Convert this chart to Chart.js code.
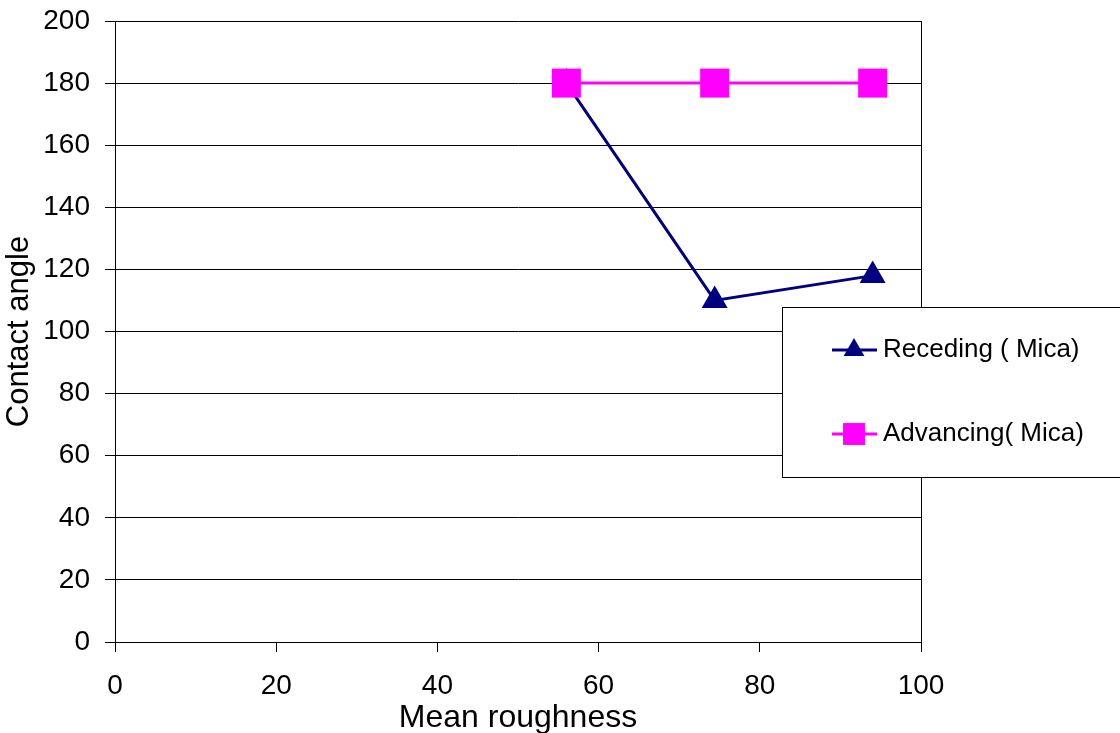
<!DOCTYPE html>
<html lang="en">
  <head>
    <meta charset="UTF-8" />
    <title>Contact angle vs mean roughness</title>
    <script src="https://cdn.jsdelivr.net/npm/chart.js"></script>
    <style>
      html, body { margin: 0; padding: 0; background: #fff; }
      #wrap { width: 1120px; height: 733px; }
    </style>
  </head>
  <body>
    <div id="wrap"><canvas id="myChart" width="1120" height="733"></canvas></div>
    <script>
      const roughness = [56, 74.4, 94];
      const receding = [180, 110, 118];
      const advancing = [180, 180, 180];
      const seriesNames = ["Receding ( Mica)", "Advancing( Mica)"];

      const FONT = "'Liberation Sans', Arial, sans-serif";

      function toPoints(xs, ys) {
        return xs.map((x, i) => ({ x: x, y: ys[i] }));
      }

      // marker for the legend box, same look as chart points
      function drawMarker(ctx, style, x, y, r, color) {
        ctx.fillStyle = color;
        ctx.beginPath();
        if (style === "triangle") {
          ctx.moveTo(x, y - r);
          ctx.lineTo(x + r * 0.866, y + r * 0.5);
          ctx.lineTo(x - r * 0.866, y + r * 0.5);
          ctx.closePath();
        } else {
          const s = r * Math.SQRT1_2;
          ctx.rect(x - s, y - s, 2 * s, 2 * s);
        }
        ctx.fill();
      }

      const boxLegend = {
        id: "boxLegend",
        afterDraw(chart) {
          const ctx = chart.ctx;
          const area = chart.chartArea;
          ctx.save();
          // right edge of plot area
          ctx.strokeStyle = "#000";
          ctx.lineWidth = 1;
          ctx.beginPath();
          ctx.moveTo(Math.round(area.right) + 0.5, area.top);
          ctx.lineTo(Math.round(area.right) + 0.5, area.bottom);
          ctx.stroke();

          // legend box
          ctx.fillStyle = "#fff";
          ctx.fillRect(782.5, 307.5, 400, 170);
          ctx.strokeRect(782.5, 307.5, 400, 170);

          const rows = [350, 434];
          const markerR = [12, 15.5];
          chart.data.datasets.forEach((ds, i) => {
            const y = rows[i];
            ctx.strokeStyle = ds.borderColor;
            ctx.lineWidth = 3;
            ctx.beginPath();
            ctx.moveTo(832, y);
            ctx.lineTo(877, y);
            ctx.stroke();
            drawMarker(ctx, ds.pointStyle, 854, y, markerR[i], ds.pointBackgroundColor);
            ctx.fillStyle = "#000";
            ctx.font = "26px " + FONT;
            ctx.textAlign = "left";
            ctx.textBaseline = "middle";
            ctx.fillText(ds.label, 883, y);
          });
          ctx.restore();
        },
      };

      const ctx = document.getElementById("myChart").getContext("2d");
      const myChart = new Chart(ctx, {
        type: "line",
        data: {
          datasets: [
            {
              label: seriesNames[0],
              data: toPoints(roughness, receding),
              borderColor: "#000080",
              backgroundColor: "#000080",
              pointBackgroundColor: "#000080",
              pointBorderColor: "#000080",
              pointBorderWidth: 0,
              pointStyle: "triangle",
              pointRadius: 15,
              borderWidth: 3,
              tension: 0,
              order: 2,
            },
            {
              label: seriesNames[1],
              data: toPoints(roughness, advancing),
              borderColor: "#ff00ff",
              backgroundColor: "#ff00ff",
              pointBackgroundColor: "#ff00ff",
              pointBorderColor: "#ff00ff",
              pointBorderWidth: 0,
              pointStyle: "rect",
              pointRadius: 20.5,
              borderWidth: 3,
              tension: 0,
              order: 1,
            },
          ],
        },
        options: {
          responsive: false,
          animation: false,
          layout: { padding: { top: 21, right: 199, bottom: -4, left: 0 } },
          plugins: {
            legend: { display: false },
            tooltip: { enabled: false },
          },
          scales: {
            x: {
              type: "linear",
              min: 0,
              max: 100,
              ticks: {
                stepSize: 20,
                color: "#000",
                padding: 17,
                font: { family: FONT, size: 28 },
              },
              grid: {
                drawOnChartArea: false,
                drawTicks: true,
                tickLength: 10,
                color: "#000",
              },
              border: { display: true, color: "#000", width: 1 },
              title: {
                display: true,
                text: "Mean roughness",
                color: "#000",
                padding: { top: 0, bottom: 0 },
                font: { family: FONT, size: 32 },
              },
              afterFit(scale) {
                scale.height = 95;
              },
            },
            y: {
              min: 0,
              max: 200,
              ticks: {
                stepSize: 20,
                color: "#000",
                padding: 15,
                font: { family: FONT, size: 28 },
              },
              grid: {
                color: "#000",
                tickLength: 10,
                lineWidth: 1,
              },
              border: { display: true, color: "#000", width: 1 },
              title: {
                display: true,
                text: "Contact angle",
                color: "#000",
                padding: { top: 1, bottom: 0 },
                font: { family: FONT, size: 31 },
              },
              afterFit(scale) {
                scale.width = 115;
                scale.paddingTop = 0;
                scale.paddingBottom = 0;
              },
            },
          },
        },
        plugins: [boxLegend],
      });
    </script>
  </body>
</html>
